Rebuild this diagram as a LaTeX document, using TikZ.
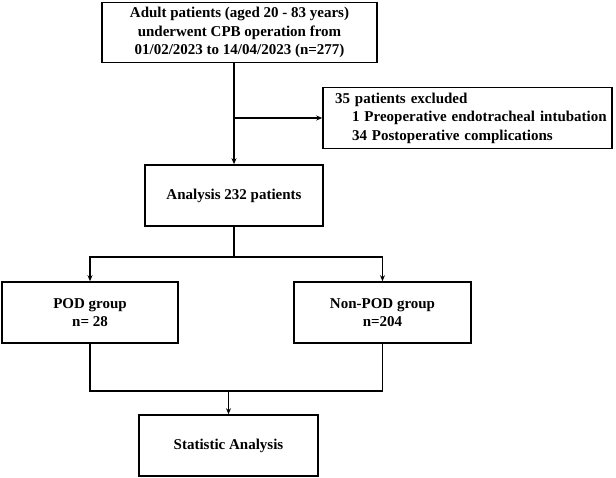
\documentclass[tikz,border=0pt]{standalone}
\usepackage{fontspec}
\setmainfont{Liberation Serif}
\usetikzlibrary{arrows.meta}
\begin{document}
\begin{tikzpicture}[x=1pt,y=-1pt,
  box/.style={draw,line width=1.6pt,align=center,inner sep=0pt,
    font=\bfseries\fontsize{15}{18.5}\selectfont},
  conn/.style={line width=1.5pt},
  arr/.style={conn,-{Stealth[length=6pt,width=5pt]}}]
\useasboundingbox (0,0) rectangle (616,478);
\node[box,minimum width=275,minimum height=60] (top) at (239.5,32.5)
  {Adult patients (aged 20 - 83 years)\\underwent CPB operation from\\01/02/2023 to 14/04/2023 (n=277)};
\node[box,minimum width=289,minimum height=61,text width=265,align=left] (exc) at (467.5,118)
  {\mbox{35 patients excluded}\\\mbox{\hspace*{17pt}1 Preoperative endotracheal intubation}\\\mbox{\hspace*{17pt}34 Postoperative complications}};
\node[box,minimum width=178,minimum height=61] (ana) at (234,195.5) {Analysis 232 patients};
\node[box,minimum width=176,minimum height=61] (pod) at (90,312.5) {POD group\\n= 28};
\node[box,minimum width=177,minimum height=61] (non) at (382.5,312.5) {Non-POD group\\n=204};
\node[box,minimum width=179,minimum height=61] (stat) at (228.5,445.5) {Statistic Analysis};
\coordinate (sp) at (234,257);
\coordinate (jn) at (228.5,391);
\draw[arr] (top.south -| ana.north) -- (ana.north);
\draw[arr] (ana.north |- exc.west) -- (exc.west);
\draw[conn] (ana.south) -- (sp);
\draw[arr] (sp) -| (pod.north);
\draw[arr] (sp) -| (non.north);
\draw[conn] (pod.south) -- (pod.south |- jn) -- (non.south |- jn) -- (non.south);
\draw[arr] (jn) -- (stat.north);
\end{tikzpicture}
\end{document}
